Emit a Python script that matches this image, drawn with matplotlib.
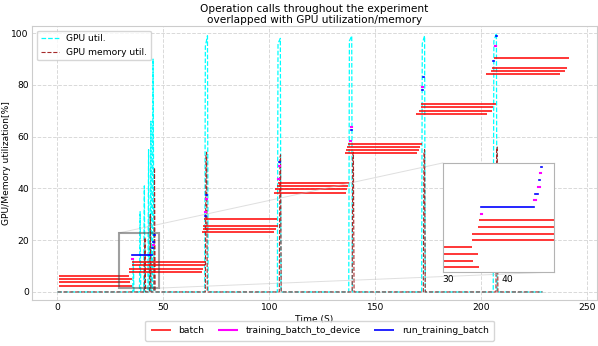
import matplotlib
matplotlib.use("Agg")
import matplotlib.pyplot as plt

plt.rcParams['font.size'] = 6.6

# GPU utilization / memory samples (time s, percent)
util_t = [0, 35.5, 35.8, 36.1, 38.7, 39.0, 39.3, 40.7, 41.0, 41.3, 42.7, 43.0, 43.3,
          43.8, 44.1, 44.4, 44.8, 45.1, 45.6,
          69.5, 69.8, 70.8, 71.1, 103.8, 104.1, 105.2, 105.5,
          137.5, 137.8, 138.9, 139.2, 171.9, 172.2, 173.3, 173.6,
          205.7, 206.0, 207.2, 207.5, 229]
util_v = [0, 0, 12, 0, 0, 31, 0, 0, 41, 0, 0, 55, 0,
          0, 66, 0, 0, 90, 0,
          0, 95, 99, 0, 0, 96, 98, 0,
          0, 97, 99, 0, 0, 96, 99, 0,
          0, 97, 100, 0, 0]
mem_t = [0, 41.0, 41.3, 41.6, 43.5, 43.8, 44.1, 45.5, 45.8, 46.1,
         69.8, 70.1, 70.4, 70.7, 104.7, 105.0, 105.3, 105.6,
         139.1, 139.4, 139.7, 140.0, 172.7, 173.0, 173.3, 173.6,
         207.0, 207.3, 207.6, 207.9, 229]
mem_v = [0, 0, 21, 0, 0, 30, 0, 0, 48, 0,
         0, 53, 54, 0, 0, 52, 53, 0,
         0, 53, 54, 0, 0, 54, 55, 0,
         0, 55, 56, 0, 0]

# batch calls: y position, start, end
batch_y = [2.4, 3.7, 5.0, 6.3, 7.7, 8.9, 10.3, 11.6,
           23.2, 24.4, 25.6, 28.2, 38.4, 39.7, 41.0, 42.3,
           53.6, 54.9, 56.0, 57.2, 68.8, 70.1, 71.4, 72.8,
           84.2, 85.3, 86.6, 90.5]
batch_start = [0.5, 0.5, 0.5, 0.5, 33.95, 33.95, 34.97, 35.1,
               68.1, 68.6, 68.6, 69.2, 102.2, 102.7, 103.5, 104.2,
               135.7, 136.1, 136.8, 137.2, 169.2, 170.8, 171.6, 171.6,
               202.2, 204.6, 205.2, 206.1]
batch_end = [35.2, 34.1, 35.0, 33.9, 68.1, 68.9, 69.7, 69.7,
             102.2, 103.3, 104.2, 103.4, 136.1, 136.8, 137.2, 137.7,
             169.5, 170.7, 171.1, 171.9, 202.8, 204.9, 205.7, 206.9,
             237.1, 239.8, 240.6, 241.5]

# training_batch_to_device calls
dev_y = [12.9, 15.5, 18.1, 20.8,
         26.9, 30.8, 33.4, 36.0,
         43.6, 46.2, 48.8, 51.4,
         58.5, 61.1, 63.7, 66.3,
         74.1, 76.7, 79.3, 81.9,
         87.9, 92.4, 95.0, 97.6]
dev_start = [35.4, 44.5, 45.2, 45.5,
             69.4, 69.8, 70.0, 70.2,
             104.3, 104.5, 104.7, 104.9,
             138.3, 138.5, 138.7, 138.9,
             171.9, 172.1, 172.3, 172.5,
             205.6, 206.4, 206.7, 207.0]
dev_end = [35.7, 44.8, 45.4, 45.6,
           69.6, 70.0, 70.2, 70.4,
           104.5, 104.7, 104.9, 105.1,
           138.5, 138.7, 138.9, 139.1,
           172.1, 172.3, 172.5, 172.7,
           205.8, 206.6, 206.9, 207.2]

# run_training_batch calls
run_y = [14.2, 16.8, 19.4, 22.1,
         29.5, 32.1, 34.7, 37.3,
         44.9, 47.5, 50.1, 52.7,
         59.8, 62.4, 65.0, 67.6,
         75.4, 78.0, 80.6, 83.2,
         89.2, 93.7, 96.3, 98.9]
run_start = [35.4, 44.6, 45.3, 45.6,
             69.7, 69.9, 70.1, 70.3,
             104.4, 104.6, 104.8, 105.0,
             138.4, 138.6, 138.8, 139.0,
             172.0, 172.2, 172.4, 172.6,
             205.8, 206.5, 206.8, 207.1]
run_end = [44.4, 45.2, 45.5, 45.8,
           69.9, 70.1, 70.3, 70.5,
           104.6, 104.8, 105.0, 105.2,
           138.6, 138.8, 139.0, 139.2,
           172.2, 172.4, 172.6, 172.8,
           206.0, 206.7, 207.0, 207.3]


def draw_events(a):
    a.hlines(batch_y, batch_start, batch_end, colors='red', lw=1.1, label='batch')
    a.hlines(dev_y, dev_start, dev_end, colors='magenta', lw=1.5, capstyle='projecting',
             label='training_batch_to_device')
    a.hlines(run_y, run_start, run_end, colors='blue', lw=1.2, capstyle='projecting',
             label='run_training_batch')


fig, ax = plt.subplots(figsize=(5.98, 3.46), dpi=100)
fig.subplots_adjust(left=0.054, right=0.998, top=0.925, bottom=0.133)

l1, = ax.plot(util_t, util_v, '--', color='cyan', lw=0.9, label='GPU util.')
l2, = ax.plot(mem_t, mem_v, '--', color='brown', lw=0.8, label='GPU memory util.')
draw_events(ax)

ax.set_xlim(-11.9, 254.6)
ax.set_ylim(-3.1, 102.8)
ax.grid(True, linestyle='--', color='0.85', lw=0.7)
ax.tick_params(length=0, pad=2.5)
for s in ax.spines.values():
    s.set_color('0.8')
ax.set_xlabel('Time (S)', labelpad=2)
ax.set_ylabel('GPU/Memory utilization[%]', labelpad=0)
ax.set_title('Operation calls throughout the experiment\noverlapped with GPU utilization/memory',
             fontsize=7.6, pad=2, linespacing=1.15)

leg1 = ax.legend(handles=[l1, l2], loc='upper left')
ax.add_artist(leg1)
h, lab = ax.get_legend_handles_labels()
ax.legend(h[2:], lab[2:], loc='upper center', bbox_to_anchor=(0.509, -0.075), ncol=3,
          columnspacing=1.5, handlelength=2.2, borderaxespad=0, borderpad=0.6)

axins = ax.inset_axes([0.727, 0.102, 0.198, 0.398])
draw_events(axins)
axins.set_xlim(29.0, 47.9)
axins.set_ylim(1.5, 22.8)
axins.set_xticks([30, 40])
axins.set_yticks([])
axins.tick_params(length=0, pad=2)
for s in axins.spines.values():
    s.set_color('0.7')
ind = ax.indicate_inset_zoom(axins, edgecolor='0.25', lw=1.5)
for c in ind.connectors:
    c.set_linewidth(0.7)
    c.set_color('0.75')

fig.savefig('out.png', dpi=100)
